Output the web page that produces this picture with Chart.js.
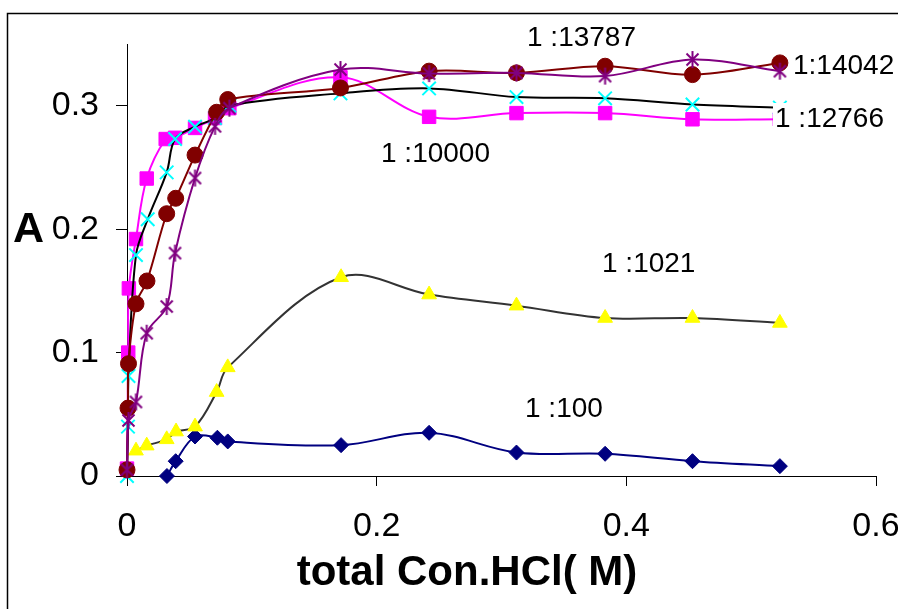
<!DOCTYPE html>
<html>
<head>
<meta charset="utf-8">
<script src="https://cdn.jsdelivr.net/npm/chart.js@4/dist/chart.umd.min.js"></script>
<style>
  html, body { margin: 0; padding: 0; background: #fff; }
  canvas { display: block; }
</style>
</head>
<body>
<canvas id="c" width="898" height="609"></canvas>
<script>
// Absorbance vs. total HCl concentration for several molar ratios
const xTicks = [0, 0.2, 0.4, 0.6];
const yTicks = [0, 0.1, 0.2, 0.3];

const hcl_100   = [0.032, 0.039, 0.0545, 0.0724, 0.0807, 0.1715, 0.242, 0.312, 0.383, 0.453, 0.523];
const abs_100   = [0.000, 0.012, 0.032, 0.031, 0.028, 0.025, 0.035, 0.019, 0.018, 0.012, 0.008];

const hcl_1021  = [0.0072, 0.0158, 0.0318, 0.0393, 0.0545, 0.0718, 0.0807, 0.1715, 0.242, 0.312, 0.383, 0.453, 0.523];
const abs_1021  = [0.0205, 0.0246, 0.0297, 0.036, 0.040, 0.068, 0.088, 0.161, 0.147, 0.138, 0.128, 0.128, 0.124];

const hcl_10000 = [0.000, 0.001, 0.0015, 0.0072, 0.0158, 0.031, 0.0385, 0.0545, 0.0705, 0.082, 0.171, 0.242, 0.312, 0.383, 0.453, 0.523];
const abs_10000 = [0.006, 0.100, 0.152, 0.192, 0.241, 0.273, 0.274, 0.282, 0.290, 0.298, 0.323, 0.291, 0.294, 0.294, 0.289, 0.289];

const hcl_12766 = [0.000, 0.0008, 0.0012, 0.0072, 0.0166, 0.0318, 0.0385, 0.0545, 0.0705, 0.082, 0.171, 0.242, 0.312, 0.383, 0.453, 0.523];
const abs_12766 = [0.000, 0.040, 0.081, 0.179, 0.208, 0.246, 0.273, 0.283, 0.290, 0.300, 0.310, 0.314, 0.307, 0.306, 0.301, 0.2985];

const hcl_13787 = [0.000, 0.0008, 0.0012, 0.0072, 0.016, 0.0318, 0.039, 0.0545, 0.0718, 0.0807, 0.171, 0.242, 0.312, 0.383, 0.453, 0.523];
const abs_13787 = [0.005, 0.055, 0.091, 0.1395, 0.158, 0.2125, 0.225, 0.260, 0.2947, 0.305, 0.3144, 0.328, 0.3266, 0.332, 0.3252, 0.3347];

const hcl_14042 = [0.000, 0.0012, 0.0072, 0.0158, 0.0318, 0.0385, 0.0545, 0.0705, 0.082, 0.171, 0.242, 0.312, 0.383, 0.453, 0.523];
const abs_14042 = [0.005, 0.045, 0.060, 0.1157, 0.1373, 0.1806, 0.2414, 0.2833, 0.298, 0.3293, 0.326, 0.3266, 0.324, 0.3374, 0.328];

const ratioLabels = ['1 :100', '1 :1021', '1 :10000', '1 :12766', '1 :13787', '1:14042'];

const FONT = '"Liberation Sans", Arial, Helvetica, sans-serif';

// label placement (left x, baseline y) in canvas pixels
const labelPlacement = [
  { x: 525, y: 417 },
  { x: 602, y: 272 },
  { x: 381, y: 162 },
  { x: 775, y: 127 },
  { x: 527, y: 46 },
  { x: 793, y: 74 }
];

function pts(xs, ys) { return xs.map((x, i) => ({ x: x, y: ys[i] })); }

// "*" marker: an X with a vertical stroke
function asteriskMarker(color, r, lw) {
  const s = Math.ceil(r * 2 + lw * 2);
  const cv = document.createElement('canvas');
  cv.width = s; cv.height = s;
  const g = cv.getContext('2d');
  const c = s / 2, d = r * Math.SQRT1_2;
  g.strokeStyle = color; g.lineWidth = lw; g.lineCap = 'butt';
  g.beginPath();
  g.moveTo(c - d, c - d); g.lineTo(c + d, c + d);
  g.moveTo(c + d, c - d); g.lineTo(c - d, c + d);
  g.moveTo(c, c - r); g.lineTo(c, c + r);
  g.stroke();
  return cv;
}

const decor = {
  id: 'decor',
  beforeDraw(chart) {
    const ctx = chart.ctx;
    ctx.save();
    ctx.fillStyle = '#fff';
    ctx.fillRect(0, 0, chart.width, chart.height);
    ctx.strokeStyle = '#000';
    ctx.lineWidth = 1.5;
    ctx.beginPath();
    ctx.moveTo(7.5, chart.height + 2);
    ctx.lineTo(7.5, 13.5);
    ctx.lineTo(chart.width + 2, 13.5);
    ctx.stroke();
    ctx.restore();
  },
  afterDatasetsDraw(chart) {
    const ctx = chart.ctx;
    ctx.save();
    ctx.font = '28px ' + FONT;
    ctx.textBaseline = 'alphabetic';
    ctx.textAlign = 'left';
    ratioLabels.forEach((t, i) => {
      const p = labelPlacement[i];
      const w = ctx.measureText(t).width;
      ctx.fillStyle = '#fff';
      ctx.fillRect(p.x - 2, p.y - 24, w + 4, 31);
      ctx.fillStyle = '#000';
      ctx.fillText(t, p.x, p.y);
    });
    ctx.restore();
  },
  afterDraw(chart) {
    const ctx = chart.ctx;
    ctx.save();
    ctx.fillStyle = '#000';
    ctx.textBaseline = 'alphabetic';
    ctx.font = 'bold 43px ' + FONT;
    ctx.textAlign = 'left';
    ctx.fillText('A', 13, 242);
    ctx.font = 'bold 42px ' + FONT;
    ctx.textAlign = 'center';
    ctx.fillText('total Con.HCl( M)', 467, 585);
    ctx.restore();
  }
};

const common = { showLine: true, tension: 0.35, fill: false, pointHoverRadius: 0, clip: { left: 12, right: 12, top: 6, bottom: 12 } };

const datasets = [
  Object.assign({}, common, {
    label: ratioLabels[0], data: pts(hcl_100, abs_100), order: 5,
    borderColor: '#000080', borderWidth: 2,
    pointStyle: 'rectRot', pointRadius: 7.5, pointBackgroundColor: '#000080', pointBorderColor: '#000080', pointBorderWidth: 1
  }),
  Object.assign({}, common, {
    label: ratioLabels[1], data: pts(hcl_1021, abs_1021), order: 4,
    borderColor: '#333333', borderWidth: 2,
    pointStyle: 'triangle', pointRadius: 8.5, pointBackgroundColor: '#FFFF00', pointBorderColor: '#FFFF00', pointBorderWidth: 1
  }),
  Object.assign({}, common, {
    label: ratioLabels[2], data: pts(hcl_10000, abs_10000), order: 3,
    borderColor: '#FF00FF', borderWidth: 2,
    pointStyle: 'rect', pointRadius: 9.5, pointBackgroundColor: '#FF00FF', pointBorderColor: '#FF00FF', pointBorderWidth: 1
  }),
  Object.assign({}, common, {
    label: ratioLabels[3], data: pts(hcl_12766, abs_12766), order: 2,
    borderColor: '#000000', borderWidth: 2,
    pointStyle: 'crossRot', pointRadius: 9.5, pointBackgroundColor: '#00FFFF', pointBorderColor: '#00FFFF', pointBorderWidth: 2
  }),
  Object.assign({}, common, {
    label: ratioLabels[4], data: pts(hcl_13787, abs_13787), order: 1,
    borderColor: '#800000', borderWidth: 2,
    pointStyle: 'circle', pointRadius: 8, pointBackgroundColor: '#800000', pointBorderColor: '#800000', pointBorderWidth: 1
  }),
  Object.assign({}, common, {
    label: ratioLabels[5], data: pts(hcl_14042, abs_14042), order: 0,
    borderColor: '#800080', borderWidth: 2,
    pointStyle: asteriskMarker('#800080', 8.5, 2), pointRadius: 8.5
  })
];

function fmt(v) { return String(Math.round(v * 10) / 10); }

new Chart(document.getElementById('c'), {
  type: 'scatter',
  data: { datasets: datasets },
  options: {
    responsive: false,
    animation: false,
    events: [],
    layout: { padding: { left: 0, right: 22, top: 44, bottom: 0 } },
    plugins: { legend: { display: false }, tooltip: { enabled: false }, title: { display: false } },
    scales: {
      x: {
        type: 'linear', min: 0, max: 0.6,
        afterBuildTicks: s => { s.ticks = xTicks.map(v => ({ value: v })); },
        afterFit: s => { s.height = 133; s.paddingLeft = 0; s.paddingRight = 0; },
        ticks: { color: '#000', font: { size: 34, family: FONT }, padding: 20, callback: fmt, maxRotation: 0, autoSkip: false },
        grid: { drawOnChartArea: false, drawTicks: true, tickLength: 10, color: '#000', lineWidth: 1 },
        border: { display: true, color: '#000', width: 1 }
      },
      y: {
        type: 'linear', min: 0, max: 0.35,
        afterBuildTicks: s => { s.ticks = yTicks.map(v => ({ value: v })); },
        afterFit: s => { s.width = 127; s.paddingTop = 0; s.paddingBottom = 0; },
        ticks: { color: '#000', font: { size: 34, family: FONT }, padding: 17, callback: fmt, autoSkip: false },
        grid: { drawOnChartArea: false, drawTicks: true, tickLength: 11, color: '#000', lineWidth: 1 },
        border: { display: true, color: '#000', width: 1 }
      }
    }
  },
  plugins: [decor]
});
</script>
</body>
</html>
